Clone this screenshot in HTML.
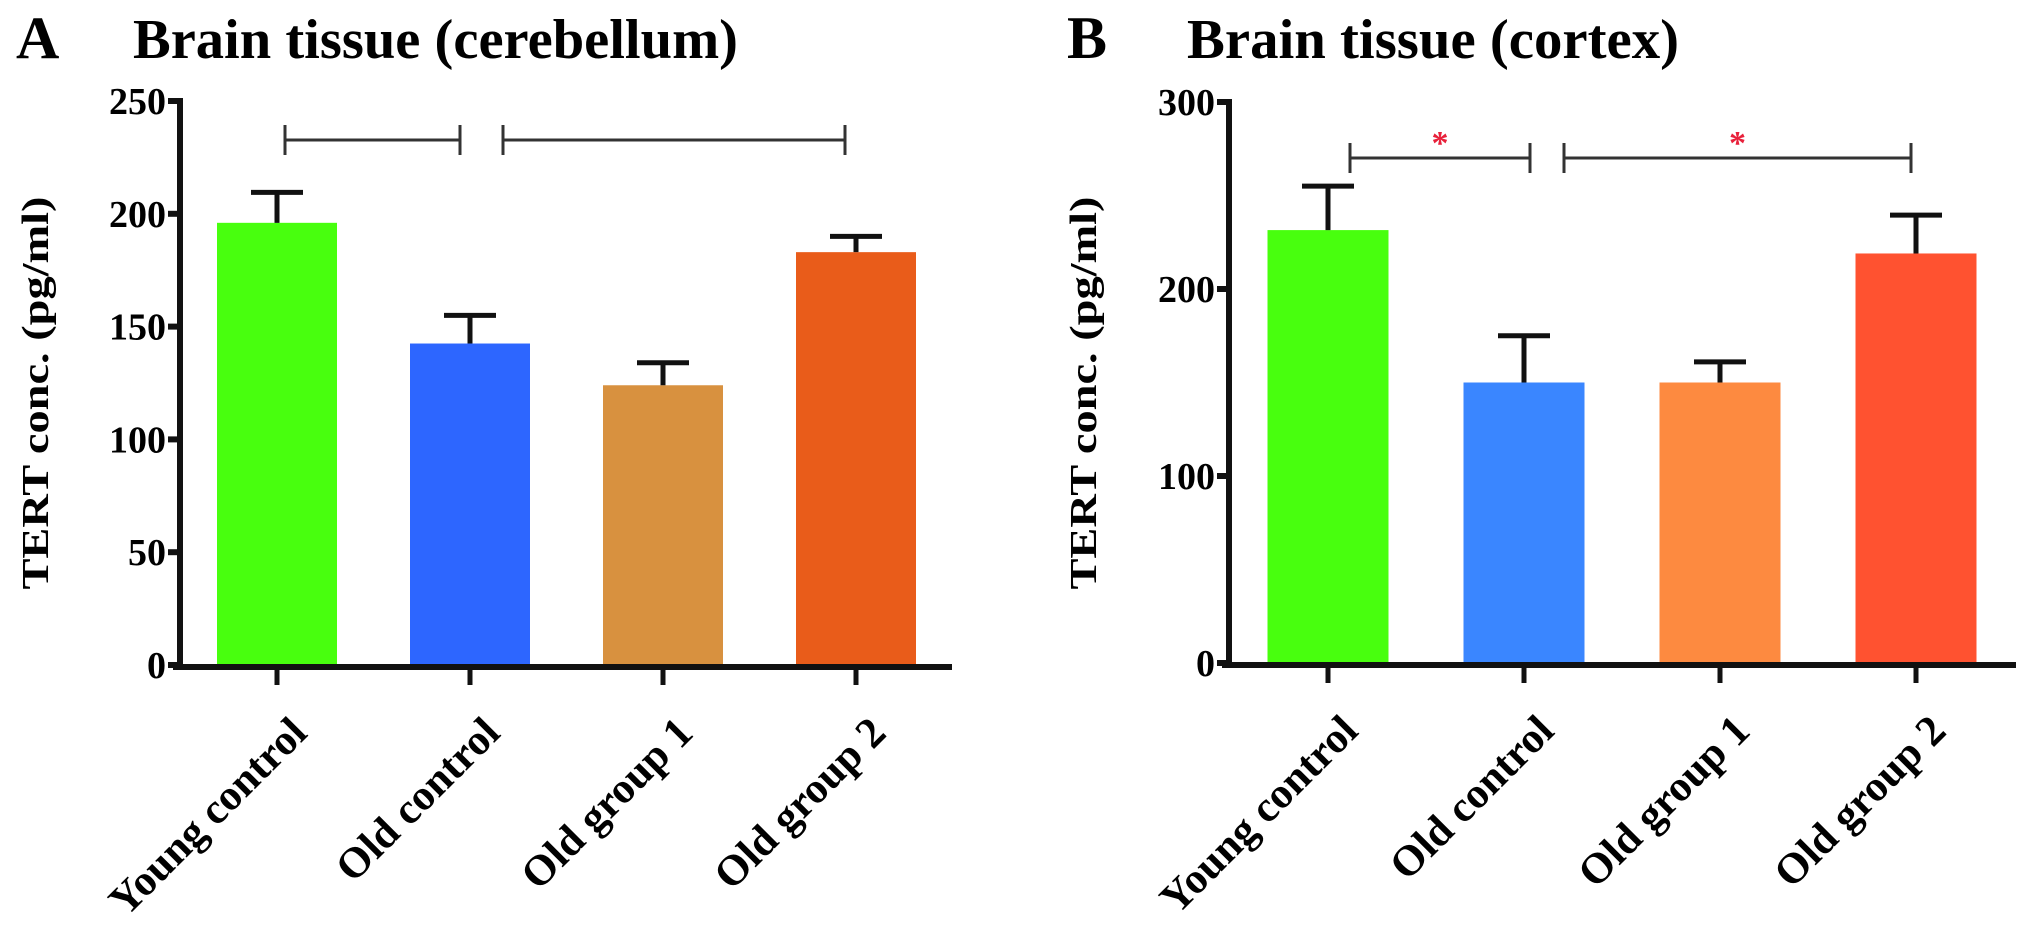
<!DOCTYPE html>
<html><head><meta charset="utf-8"><style>
html,body{margin:0;padding:0;background:#fff;}
svg{display:block;font-family:"Liberation Serif",serif;font-weight:bold;}
</style></head><body>
<svg id="fig" width="2031" height="933" viewBox="0 0 2031 933" xmlns="http://www.w3.org/2000/svg">
<text x="16" y="58" font-size="60">A</text>
<text x="133" y="58" font-size="56" textLength="605" lengthAdjust="spacingAndGlyphs">Brain tissue (cerebellum)</text>
<text x="1067" y="58" font-size="60">B</text>
<text x="1187" y="58" font-size="56" textLength="492" lengthAdjust="spacingAndGlyphs">Brain tissue (cortex)</text>
<g id="pa"></g>
<g id="pb"></g>
</svg>
<script>
const categories = ["Young control","Old control","Old group 1","Old group 2"];
const valuesA = [196, 142.5, 124, 183];
const errorsA = [13.5, 12.5, 10, 7];
const ticksA = [0, 50, 100, 150, 200, 250];
const valuesB = [231.5, 150, 150, 219];
const errorsB = [23.5, 25, 11, 20.5];
const ticksB = [0, 100, 200, 300];
const colorsA = ["#48ff0e","#2d66ff","#d8913f","#e95c1a"];
const colorsB = ["#48ff0e","#3a86ff","#fd8a40","#ff5230"];
const NS = "http://www.w3.org/2000/svg";
function mk(parent, tag, attrs){const e=document.createElementNS(NS,tag);for(const k in attrs)e.setAttribute(k,attrs[k]);parent.appendChild(e);return e;}

function drawPanel(g, values, errors, ticks, colors, cfg){
  const yMax = ticks[ticks.length-1];
  const y = v => cfg.y0 - (v/yMax)*(cfg.y0-cfg.yTop);
  const x = i => cfg.x1 + cfg.step*i;
  values.forEach((v,i)=>{
    const r=mk(g,'rect',{x:x(i)-cfg.bw/2,y:y(v),width:cfg.bw,height:cfg.y0-y(v),fill:colors[i]});
    
    
    const e=mk(g,'path',{d:`M${x(i)} ${y(v)} V${y(v+errors[i])} M${x(i)-26} ${y(v+errors[i])} H${x(i)+26}`,stroke:'#111','stroke-width':5,fill:'none'});
    
    
  });
  const ax=mk(g,'path',{d:`M${cfg.ax} ${cfg.y0+3} V${cfg.yTop-3} M${cfg.ax-7} ${cfg.y0+2} H${cfg.axEnd}`,stroke:'#111','stroke-width':6,fill:'none'});
  
  
  ticks.forEach(t=>{
    const tk=mk(g,'line',{x1:cfg.ax-12,x2:cfg.ax,y1:y(t),y2:y(t),stroke:'#111','stroke-width':6});
    
    
    const tl=mk(g,'text',{x:cfg.ax-14,y:y(t)+13,'font-size':38,'text-anchor':'end'});
    tl.textContent=t;
    
    
  });
  categories.forEach((c,i)=>{
    const tk=mk(g,'line',{x1:x(i),x2:x(i),y1:cfg.y0,y2:cfg.y0+20,stroke:'#111','stroke-width':5});
    
    
    const tx=x(i)+32, ty=cfg.y0+70;
    const tl=mk(g,'text',{x:tx,y:ty,'font-size':43,'text-anchor':'end',transform:`rotate(-45 ${tx} ${ty})`});
    tl.textContent=c;
    
    
  });
  const yt=mk(g,'text',{x:cfg.ytX,y:cfg.ytY,'font-size':38,'text-anchor':'middle',transform:`rotate(-90 ${cfg.ytX} ${cfg.ytY})`,textLength:393,lengthAdjust:'spacingAndGlyphs'});
  yt.textContent='TERT conc. (pg/ml)';
  
  
  cfg.brackets.forEach(b=>{
    const p=mk(g,'path',{d:`M${b[0]} ${cfg.bY-15} V${cfg.bY+15} M${b[0]} ${cfg.bY} H${b[1]} M${b[1]} ${cfg.bY-15} V${cfg.bY+15}`,stroke:'#333','stroke-width':3,fill:'none'});
    
    
    if(cfg.star){
      const s=mk(g,'text',{x:(b[0]+b[1])/2,y:cfg.bY-4,'font-size':34,fill:'#e8203a','text-anchor':'middle'});
      s.textContent='*';
      
      
    }
  });
}
drawPanel(document.getElementById('pa'), valuesA, errorsA, ticksA, colorsA,
  {x1:277, step:193, bw:120, y0:665, yTop:101, ax:180, axEnd:952, ytX:48, ytY:393,
   bY:140, brackets:[[285,460],[503,845]], star:false});
drawPanel(document.getElementById('pb'), valuesB, errorsB, ticksB, colorsB,
  {x1:1328, step:196, bw:121, y0:663, yTop:102, ax:1229, axEnd:2016, ytX:1096, ytY:393,
   bY:158, brackets:[[1350,1530],[1564,1911]], star:true});
</script>
</body></html>
